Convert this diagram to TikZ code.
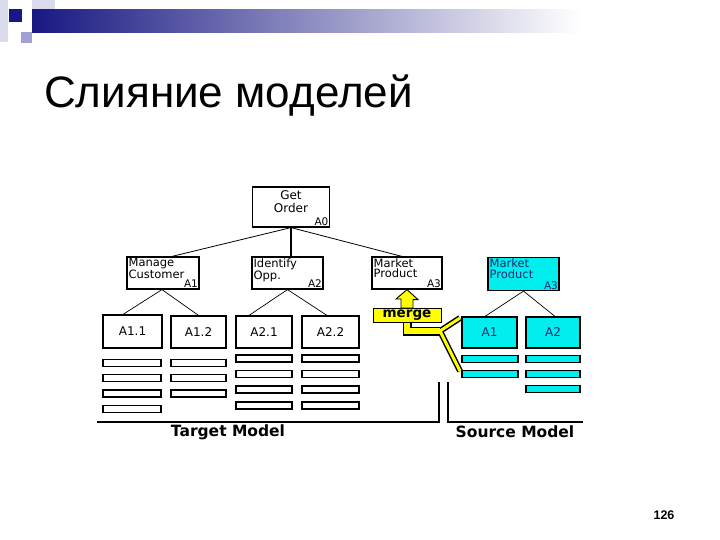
\documentclass[tikz,border=0pt]{standalone}
\usepackage{fontspec}
\setmainfont{Liberation Sans}
\newfontfamily\diafont{DejaVu Sans}
\definecolor{navy}{RGB}{24,24,130}
\definecolor{lavA}{RGB}{218,218,238}
\definecolor{lavB}{RGB}{160,160,210}
\definecolor{cyanbox}{RGB}{0,238,238}
\definecolor{cyantext}{RGB}{24,44,110}
\definecolor{mergey}{RGB}{255,255,0}

\begin{document}
\begin{tikzpicture}[x=1pt, y=-1pt, font=\diafont\fontsize{12}{12}\selectfont,
  box/.style={draw, line width=1.2pt, inner sep=0pt},
  cbox/.style={box, fill=cyanbox, text=cyantext},
  txt/.style={anchor=north west, align=left, inner sep=2pt, font=\diafont\fontsize{11.5}{10.5}\selectfont},
  num/.style={anchor=south east, inner sep=1.5pt, font=\diafont\fontsize{10.5}{10.5}\selectfont},
  bar/.style={draw, line width=1.2pt, inner sep=0pt, minimum height=7pt},
  model/.style={font=\diafont\bfseries\fontsize{15.5}{15.5}\selectfont}]
  \useasboundingbox (0,0) rectangle (720,540);
  % slide template
  \fill[lavA] (0,0) rectangle (8,42);
  \fill[lavA] (32,0) rectangle (55,22);
  \shade[left color=navy, right color=white] (32,10) rectangle (580,33);
  \fill[navy] (9,9) rectangle (22,22);
  \fill[lavB] (21,32) rectangle (32,43);
  \node[anchor=base west, inner sep=0pt, font=\fontsize{44}{44}\selectfont] (title) at (44,108) {Слияние моделей};
  \node[font=\bfseries\fontsize{12.5}{12.5}\selectfont] (page) at (664,515) {126};

  % target model
  \node[box, minimum width=77pt, minimum height=40pt,
    label={[anchor=north, align=center, yshift=-2pt, inner sep=2pt, font=\diafont\fontsize{12}{12.5}\selectfont]north:{Get\\Order}},
    label={[num]south east:A0}] (order) at (291,207) {};
  \node[box, minimum width=72pt, minimum height=32pt,
    label={[txt]north west:{Manage\\Customer}}, label={[num]south east:A1}] (manage) at (163,273) {};
  \node[box, minimum width=71pt, minimum height=32pt,
    label={[txt]north west:{Identify\\Opp.}}, label={[num]south east:A2}] (identify) at (287.5,273) {};
  \node[box, minimum width=70pt, minimum height=32pt,
    label={[txt]north west:{Market\\Product}}, label={[num]south east:A3}] (market) at (407,273) {};
  \draw[line width=0.8pt] (order.south) -- ([xshift=9pt]manage.north);
  \draw[line width=1.8pt] (order.south) -- (order.south |- identify.north);
  \draw[line width=0.8pt] (order.south) -- ([xshift=-5pt]market.north);

  \node[box, minimum width=59pt, minimum height=33pt] (a11) at (132.5,331.5) {A1.1};
  \node[box, minimum width=55pt, minimum height=32pt] (a12) at (198.5,332) {A1.2};
  \node[box, minimum width=56pt, minimum height=32pt] (a21) at (264,332) {A2.1};
  \node[box, minimum width=57pt, minimum height=32pt] (a22) at (330.5,332) {A2.2};
  \draw[line width=0.7pt] ([xshift=-1pt]manage.south) -- ([xshift=-9.5pt]a11.north);
  \draw[line width=0.7pt] ([xshift=-1pt]manage.south) -- (a12.north);
  \draw[line width=0.7pt] (identify.south) -- ([xshift=-15pt]a21.north);
  \draw[line width=0.7pt] (identify.south) -- ([xshift=-3.5pt]a22.north);

  \foreach \y [count=\i] in {363,378,393.5,409}
    \node[bar, minimum width=58pt] (a11bar\i) at (132,\y) {};
  \foreach \y [count=\i] in {363,378,393.5}
    \node[bar, minimum width=55pt] (a12bar\i) at (198.5,\y) {};
  \foreach \y [count=\i] in {358.5,374,389.5,405.5} {
    \node[bar, minimum width=56pt] (a21bar\i) at (264,\y) {};
    \node[bar, minimum width=57pt] (a22bar\i) at (330.5,\y) {};
  }
  \draw[line width=1.2pt] (97,422) -- (439,422) -- (439,382);
  \node[model] (target) at (228,432) {Target Model};

  % source model
  \node[cbox, minimum width=71pt, minimum height=33pt,
    label={[txt, text=cyantext]north west:{Market\\Product}},
    label={[num, text=cyantext]south east:A3}] (cmarket) at (523.5,274) {};
  \node[cbox, minimum width=55pt, minimum height=31pt] (ca1) at (489.5,332.5) {A1};
  \node[cbox, minimum width=54pt, minimum height=31pt] (ca2) at (553,332.5) {A2};
  \draw[line width=0.7pt] (cmarket.south) -- ([xshift=-4.5pt]ca1.north);
  \draw[line width=0.7pt] (cmarket.south) -- ([xshift=2pt]ca2.north);
  \foreach \y [count=\i] in {359,374}
    \node[bar, fill=cyanbox, minimum width=56pt] (ca1bar\i) at (490,\y) {};
  \foreach \y [count=\i] in {359,374,389}
    \node[bar, fill=cyanbox, minimum width=54pt] (ca2bar\i) at (553,\y) {};
  \draw[line width=1.2pt] (448,382) -- (448,422) -- (583,422);
  \node[model] (source) at (515,432) {Source Model};

  % merge
  \coordinate (fork) at (440,331);
  \draw[line width=9pt] (407,316) |- (fork);
  \draw[line width=6pt, line join=miter] (460,318) -- (fork) -- (460,371);
  \draw[mergey, line width=5.5pt] (407,316) |- (fork);
  \draw[mergey, line width=3pt, line join=miter] (460,318) -- (fork) -- (460,371);
  \node[draw, fill=mergey, line width=1pt, minimum width=68pt, minimum height=14pt, inner sep=0pt,
    text height=7pt, text depth=3pt,
    font=\diafont\bfseries\fontsize{13.5}{13.5}\selectfont] (merge) at (407,315) {merge};
  \draw[fill=mergey, line width=0.9pt] (market.south) -- ++(11,10) -- ++(-5,0) -- (413,308)
    -- (401,308) -- (401,299) -- (396,299) -- cycle;
\end{tikzpicture}
\end{document}
